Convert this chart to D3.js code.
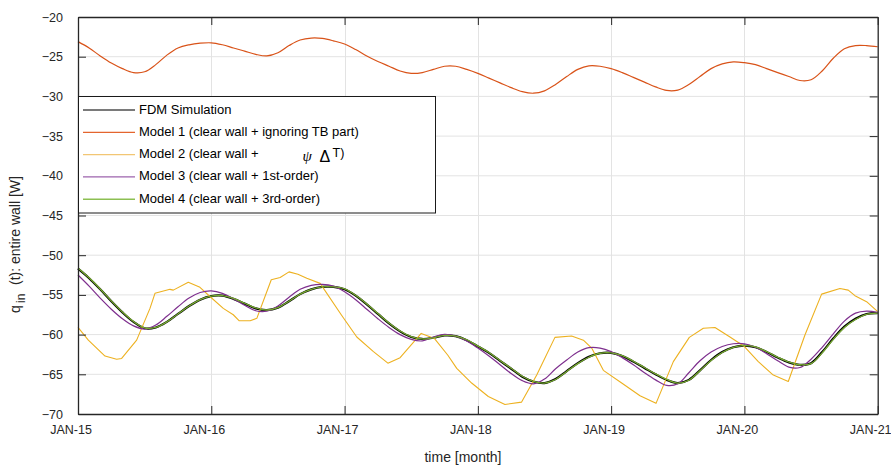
<!DOCTYPE html>
<html><head><meta charset="utf-8">
<script src="https://cdn.jsdelivr.net/npm/d3@7"></script>
<style>
html,body{margin:0;padding:0;background:#fff;}
svg{display:block;font-family:"Liberation Sans",Arial,sans-serif;}
</style></head>
<body>
<svg id="chart" width="891" height="468"></svg>
<script>
// ---------- DATA ----------
const months = d3.range(0, 73); // 0 = JAN-15 ... 72 = JAN-21
const xTickMonths = [0, 12, 24, 36, 48, 60, 72];
const xTickLabels = ["JAN-15", "JAN-16", "JAN-17", "JAN-18", "JAN-19", "JAN-20", "JAN-21"];
const yTicks = [-70, -65, -60, -55, -50, -45, -40, -35, -30, -25, -20];

const fdm = [-51.7,-52.9,-54.3,-55.8,-57.2,-58.4,-59.2,-59.1,-58.4,-57.4,-56.4,-55.6,-55.15,-55.1,-55.5,-56.1,-56.7,-56.9,-56.6,-55.8,-54.9,-54.3,-54.0,-54.0,-54.3,-55.1,-56.2,-57.4,-58.6,-59.6,-60.3,-60.55,-60.4,-60.1,-60.2,-60.7,-61.5,-62.3,-63.3,-64.3,-65.3,-65.9,-66.1,-65.6,-64.6,-63.6,-62.8,-62.35,-62.3,-62.7,-63.4,-64.2,-65.0,-65.7,-66.1,-65.7,-64.5,-63.2,-62.2,-61.6,-61.4,-61.6,-62.2,-62.9,-63.5,-63.8,-63.6,-62.2,-60.5,-59.0,-58.0,-57.4,-57.3];

const model1 = [-23.1,-23.9,-24.9,-25.8,-26.5,-27.0,-26.9,-26.0,-24.8,-23.9,-23.5,-23.3,-23.25,-23.5,-23.9,-24.3,-24.7,-24.9,-24.5,-23.6,-22.9,-22.65,-22.7,-23.0,-23.4,-24.1,-24.9,-25.6,-26.2,-26.8,-27.1,-27.0,-26.6,-26.2,-26.2,-26.6,-27.1,-27.7,-28.3,-28.9,-29.4,-29.6,-29.3,-28.5,-27.5,-26.6,-26.15,-26.2,-26.5,-27.0,-27.6,-28.2,-28.8,-29.25,-29.2,-28.5,-27.5,-26.5,-25.9,-25.65,-25.75,-26.0,-26.5,-27.0,-27.5,-28.0,-27.9,-26.8,-25.2,-24.0,-23.6,-23.6,-23.75];

const model2Months = [0,0.93,2.43,3.48,3.93,5.28,6.48,6.93,8.28,8.58,9.93,10.98,11.88,13.08,13.98,14.5,15.5,16.1,17.4,18.2,19.0,19.8,20.6,21.8,23.7,25.1,26.6,27.9,29.0,30.9,32.1,33.3,34.1,35.44,36.94,38.44,39.94,41.3,42.94,44.44,45.5,46.25,47.3,48.95,50.6,52.04,53.6,55.04,56.3,57.35,58.7,60.0,61.25,62.6,63.95,65.45,66.95,68.6,69.35,69.95,71.0,72];
const model2 = [-59.1,-60.7,-62.7,-63.1,-63.0,-60.7,-56.7,-54.8,-54.3,-54.4,-53.4,-54.05,-55.2,-56.7,-57.5,-58.25,-58.25,-57.95,-53.1,-52.8,-52.1,-52.4,-52.9,-53.55,-57.5,-60.3,-62.15,-63.6,-62.9,-59.85,-60.5,-62.6,-64.25,-66.1,-67.8,-68.8,-68.5,-65.1,-60.35,-60.18,-60.7,-61.7,-64.5,-66.1,-67.7,-68.66,-63.4,-60.35,-59.2,-59.1,-60.3,-61.5,-63.4,-65.1,-65.9,-60.05,-54.9,-54.2,-54.4,-55.1,-55.85,-57.1];

const model3 = [-52.5,-53.9,-55.4,-56.8,-58.0,-58.9,-59.3,-58.8,-57.7,-56.5,-55.4,-54.7,-54.5,-54.8,-55.5,-56.3,-57.0,-57.05,-56.4,-55.3,-54.3,-53.8,-53.67,-53.9,-54.6,-55.6,-56.8,-58.0,-59.1,-60.0,-60.6,-60.8,-60.3,-59.97,-60.2,-60.8,-61.7,-62.7,-63.8,-64.9,-65.8,-66.2,-65.6,-64.3,-63.2,-62.2,-61.65,-61.7,-62.15,-62.9,-63.8,-64.8,-65.7,-66.4,-66.2,-64.8,-63.3,-62.2,-61.5,-61.15,-61.15,-61.6,-62.4,-63.3,-64.1,-64.15,-63.1,-61.6,-59.9,-58.3,-57.3,-57.05,-57.2];

const model4 = [-51.6,-52.85,-54.25,-55.75,-57.15,-58.35,-59.15,-59.1,-58.4,-57.4,-56.4,-55.6,-55.15,-55.1,-55.45,-56.05,-56.65,-56.9,-56.6,-55.8,-54.9,-54.3,-54.0,-54.0,-54.25,-55.05,-56.15,-57.35,-58.55,-59.55,-60.25,-60.55,-60.4,-60.1,-60.2,-60.65,-61.45,-62.25,-63.25,-64.25,-65.25,-65.9,-66.1,-65.65,-64.65,-63.65,-62.85,-62.35,-62.3,-62.65,-63.35,-64.15,-64.95,-65.65,-66.1,-65.75,-64.55,-63.25,-62.25,-61.6,-61.4,-61.55,-62.15,-62.85,-63.45,-63.8,-63.65,-62.3,-60.6,-59.1,-58.1,-57.45,-57.3];

const legendLabels = ["FDM Simulation", "Model 1 (clear wall + ignoring TB part)", "Model 2 (clear wall +", "Model 3 (clear wall + 1st-order)", "Model 4 (clear wall + 3rd-order)"];

// ---------- LAYOUT ----------
const svg = d3.select("#chart");
const L = 78, R = 877.7, T = 17, B = 414;
const x = d3.scaleLinear().domain([0, 72]).range([L, R]);
const y = d3.scaleLinear().domain([-70, -20]).range([B, T]);
const axisColor = "#262626";

svg.append("rect").attr("x", L).attr("y", T).attr("width", R - L).attr("height", B - T).attr("fill", "#fff");

// grid
const grid = svg.append("g").attr("stroke", "#e3e3e3").attr("stroke-width", 1);
grid.selectAll("line.gx").data(xTickMonths.slice(1, -1)).join("line")
  .attr("x1", d => Math.round(x(d)) + 0.5).attr("x2", d => Math.round(x(d)) + 0.5)
  .attr("y1", T).attr("y2", B);
grid.selectAll("line.gy").data(yTicks.slice(1, -1)).join("line")
  .attr("y1", d => y(d)).attr("y2", d => y(d))
  .attr("x1", L).attr("x2", R);

// series
const lineSmooth = d3.line().x((d, i) => x(months[i])).y(d => y(d)).curve(d3.curveCatmullRom.alpha(0.5));
const lineM2 = d3.line().x((d, i) => x(model2Months[i])).y(d => y(d));
const plot = svg.append("g").attr("fill", "none").attr("stroke-linejoin", "round");
plot.append("path").datum(fdm).attr("d", lineSmooth).attr("stroke", "#000").attr("stroke-width", 2.2);
plot.append("path").datum(model1).attr("d", lineSmooth).attr("stroke", "#D95319").attr("stroke-width", 1.2);
plot.append("path").datum(model2).attr("d", lineM2).attr("stroke", "#EDB120").attr("stroke-width", 1.1);
plot.append("path").datum(model3).attr("d", lineSmooth).attr("stroke", "#7E2F8E").attr("stroke-width", 1.2);
plot.append("path").datum(model4).attr("d", lineSmooth).attr("stroke", "#77AC30").attr("stroke-width", 1.3);

// axes
const fs = 12.5;
const gx = svg.append("g").attr("transform", `translate(0,${B})`)
  .call(d3.axisBottom(x).tickValues(xTickMonths).tickFormat((d, i) => xTickLabels[i]).tickSize(-8).tickSizeOuter(0).tickPadding(11));
gx.selectAll("text").attr("dx", -7.5);
const gy = svg.append("g").attr("transform", `translate(${L},0)`)
  .call(d3.axisLeft(y).tickValues(yTicks).tickSize(-8).tickSizeOuter(0).tickPadding(15));
const gt = svg.append("g").attr("transform", `translate(0,${T})`)
  .call(d3.axisTop(x).tickValues(xTickMonths).tickFormat("").tickSize(-8).tickSizeOuter(0));
const gr = svg.append("g").attr("transform", `translate(${R},0)`)
  .call(d3.axisRight(y).tickValues(yTicks).tickFormat("").tickSize(-8).tickSizeOuter(0));
[gx, gy, gt, gr].forEach(g => {
  g.selectAll("path.domain").attr("stroke", axisColor).attr("stroke-width", 1.3);
  g.selectAll("line").attr("stroke", axisColor).attr("stroke-width", 1);
  g.selectAll("text").attr("fill", axisColor).style("font-size", fs + "px").style("font-family", '"Liberation Sans", Arial, sans-serif');
});

// legend
const lg = svg.append("g");
lg.append("rect").attr("x", L + 0.5).attr("y", 96.5).attr("width", 435 - L).attr("height", 213 - 96.5)
  .attr("fill", "#fff").attr("stroke", "#1a1a1a").attr("stroke-width", 1);
const legendColors = ["#7a7a7a", "#E4652E", "#F2C674", "#9D63AD", "#8CBF52"];
const legendWidths = [2.2, 1.2, 1.4, 1.4, 1.4];
legendLabels.forEach((lab, i) => {
  const ly = 110 + i * 22.3;
  lg.append("line").attr("x1", 83).attr("x2", 135).attr("y1", ly).attr("y2", ly)
    .attr("stroke", legendColors[i]).attr("stroke-width", legendWidths[i]);
  lg.append("text").attr("x", 139).attr("y", ly + 3.5).attr("fill", "#000")
    .style("font-size", "13px").text(lab);
});
// math part of Model 2 label
const m2y = 110 + 2 * 22.3;
lg.append("text").attr("x", 302.5).attr("y", m2y + 6).attr("fill", "#000")
  .style("font-family", '"Liberation Serif", serif').style("font-style", "italic").style("font-size", "15px").text("ψ");
lg.append("text").attr("x", 319.5).attr("y", m2y + 7).attr("fill", "#000")
  .style("font-family", '"Liberation Sans", sans-serif').style("font-size", "16px").text("Δ");
lg.append("text").attr("x", 332.5).attr("y", m2y + 2.5).attr("fill", "#000")
  .style("font-size", "12.5px").text("T)");

// axis titles
svg.append("text").attr("x", 463).attr("y", 462).attr("text-anchor", "middle").attr("fill", axisColor)
  .style("font-size", "14px").text("time [month]");
const yt = svg.append("text").attr("transform", "translate(20,313) rotate(-90)").attr("fill", axisColor)
  .style("font-size", "14px");
yt.append("tspan").attr("x", 0).attr("y", 0).text("q");
yt.append("tspan").attr("x", 10).attr("y", 5).style("font-size", "12px").text("in");
yt.append("tspan").attr("x", 28).attr("y", 0).text("(t): entire wall [W]");
</script>
</body></html>
